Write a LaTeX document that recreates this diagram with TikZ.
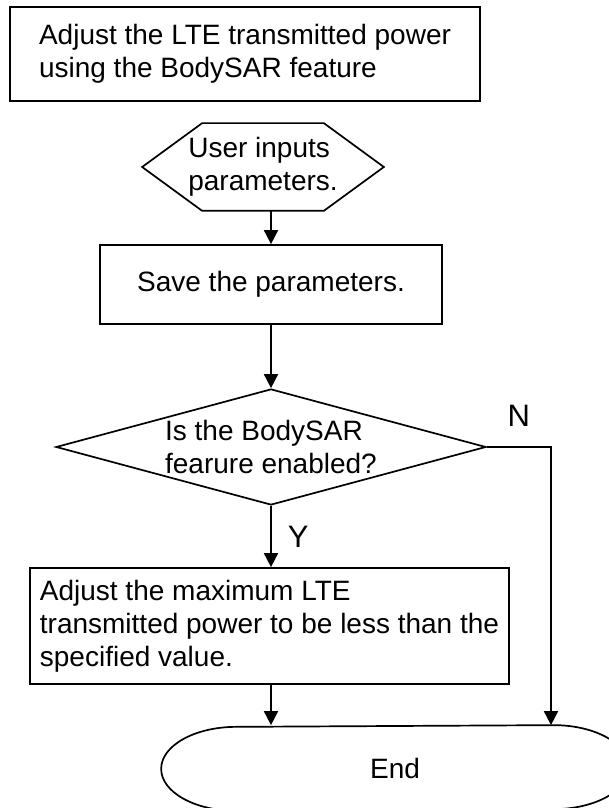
\documentclass[tikz,border=0pt]{standalone}
\usepackage{fontspec}
\setmainfont{Liberation Sans}
\usepackage{tikz}
\usetikzlibrary{positioning,shapes.geometric,arrows.meta}

\begin{document}
\begin{tikzpicture}[x=0.5pt, y=0.5pt, line width=0.85pt,
	>={Triangle[length=7pt,width=7pt]},
	font=\fontsize{14}{16.5}\selectfont,
	box/.style={draw, rectangle, inner xsep=4pt, inner ysep=0pt, align=left},
	dec/.style={draw, diamond, inner sep=0pt, aspect=3.7, minimum width=215pt, minimum height=58pt, align=left},
	lbl/.style={inner sep=0pt, font=\fontsize{15.5}{18}\selectfont}]

	\clip (0,0) rectangle (609,808);

	\node[box, minimum width=235pt, minimum height=47pt] (head) at (245,754) {Adjust the LTE transmitted power\\using the BodySAR feature};

	\node[minimum width=120pt, minimum height=43pt, inner sep=0pt, align=left] (usr) at (263,641) {User inputs\\parameters.};
	\draw (usr.west) -- ([xshift=30pt]usr.north west) -- ([xshift=-30pt]usr.north east) -- (usr.east)
		-- ([xshift=-30pt]usr.south east) -- ([xshift=30pt]usr.south west) -- cycle;

	\node[box, minimum width=171pt, minimum height=39.5pt] (save) at (271,523.5) {Save the parameters.};

	\node[dec] (chk) at (271,361) {Is the BodySAR\\fearure enabled?};

	\node[box, minimum width=239.5pt, minimum height=58pt] (adj) at (269.5,182) {Adjust the maximum LTE\\transmitted power to be less than the\\specified value.};

	\node[minimum width=158pt, minimum height=42pt, inner sep=0pt] (stop) at (395,40) {End};
	\draw (stop.south west) arc[start angle=270, end angle=90, x radius=37.5pt, y radius=21pt]
		-- (stop.north east) arc[start angle=90, end angle=-90, x radius=37.5pt, y radius=21pt] -- cycle;

	\coordinate (nturn) at (551,361);

	\draw[->] (usr.south -| save.north) -- (save.north);
	\draw[->] (save.south) -- (chk.north);
	\draw[->] (chk.south) -- (chk.south |- adj.north) node[lbl, midway, right=8pt] {Y};
	\draw[->] (chk.south |- adj.south) -- (chk.south |- stop.north);
	\draw[->] (chk.east) -- (nturn) node[lbl, midway, above=10pt] {N} -- (nturn |- stop.north);

\end{tikzpicture}
\end{document}
